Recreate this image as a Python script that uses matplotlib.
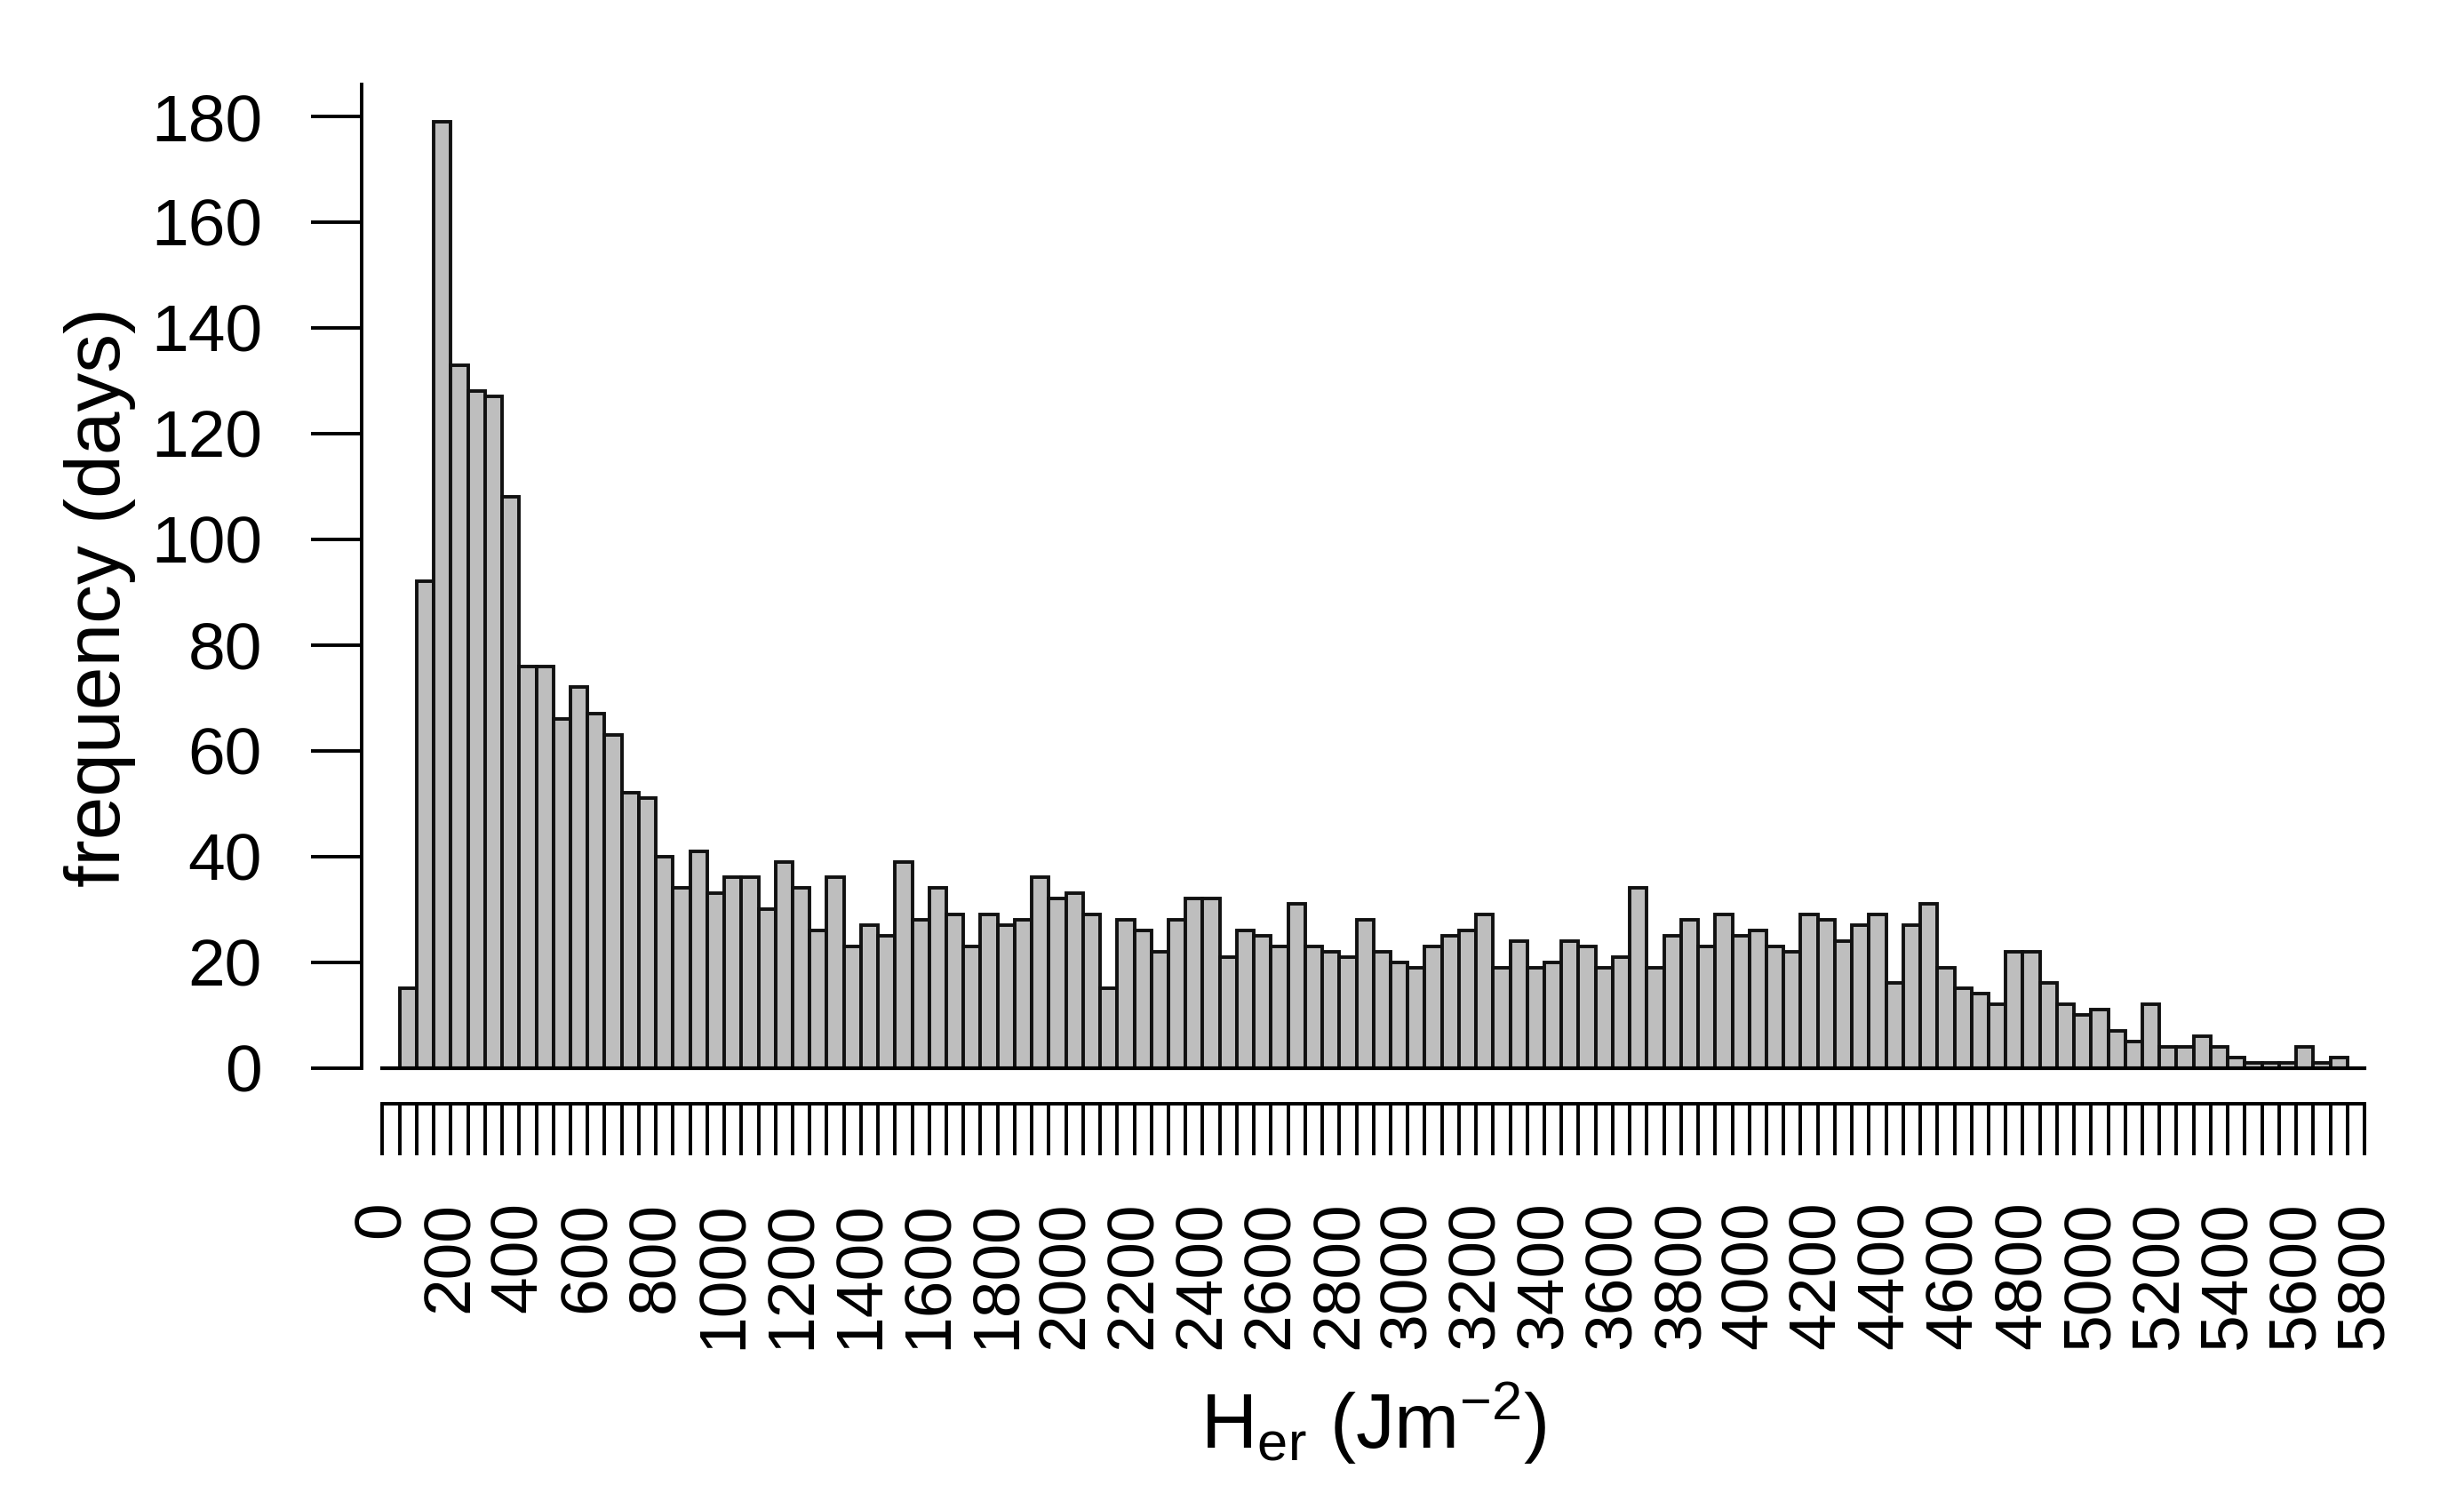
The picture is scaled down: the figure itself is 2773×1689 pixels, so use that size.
import matplotlib
matplotlib.use("Agg")
import matplotlib.pyplot as plt
import numpy as np

# ---- data ----
bin_width = 50
bin_starts = list(range(0, 5800, 50))          # 116 bins, 0..5800
counts = [0,
          15, 92, 179, 133, 128, 127, 108, 76, 76, 66,
          72, 67, 63, 52, 51, 40, 34, 41, 33, 36,
          36, 30, 39, 34, 26, 36, 23, 27, 25, 39,
          28, 34, 29, 23, 29, 27, 28, 36, 32, 33,
          29, 15, 28, 26, 22, 28, 32, 32, 21, 26,
          25, 23, 31, 23, 22, 21, 28, 22, 20, 19,
          23, 25, 26, 29, 19, 24, 19, 20, 24, 23,
          19, 21, 34, 19, 25, 28, 23, 29, 25, 26,
          23, 22, 29, 28, 24, 27, 29, 16, 27, 31,
          19, 15, 14, 12, 22, 22, 16, 12, 10, 11,
          7, 5, 12, 4, 4, 6, 4, 2, 1, 1,
          1, 4, 1, 2,
          0]
y_ticks = [0, 20, 40, 60, 80, 100, 120, 140, 160, 180]
x_minor_ticks = list(range(0, 5801, 50))
x_label_ticks = list(range(0, 5801, 200))
x_label = r'$\mathregular{H_{er}\ (Jm^{-2})}$'
y_label = 'frequency (days)'

plt.rcParams['font.family'] = ['Liberation Sans', 'DejaVu Sans']
plt.rcParams['mathtext.fontset'] = 'custom'
plt.rcParams['mathtext.rm'] = 'Liberation Sans'
plt.rcParams['mathtext.it'] = 'Liberation Sans:italic'
plt.rcParams['mathtext.bf'] = 'Liberation Sans:bold'

W, H = 2773, 1689
fig = plt.figure(figsize=(W / 100, H / 100), dpi=100)

def fx(px):
    return px / W

def fy(py):
    return 1 - py / H

x0_px, x1_px = 430.5, 2661.0
y0_px = 1201.5
ppu = 5.947  # px per count
ytop = 187
ytop_px = y0_px - ytop * ppu
lw = 2.8

ax = fig.add_axes([fx(x0_px), fy(y0_px), fx(x1_px) - fx(x0_px), fy(ytop_px) - fy(y0_px)])
ax.bar(bin_starts, counts, width=bin_width, align='edge',
       color='#bebebe', edgecolor='#111111', linewidth=lw, zorder=2)
ax.set_xlim(0, 5800)
ax.set_ylim(0, ytop)
for s in ['top', 'right']:
    ax.spines[s].set_visible(False)
ax.spines['bottom'].set_linewidth(3.0)
ax.spines['bottom'].set_zorder(3)
ax.spines['left'].set_linewidth(lw)
ax.spines['left'].set_position(('outward', 23.5 * 72 / 100))
ax.spines['left'].set_bounds(0, 186)
ax.set_xticks([])
ax.set_yticks(y_ticks)
ax.set_yticklabels([str(v) for v in y_ticks])
ax.tick_params(axis='y', direction='out', length=57 * 0.72, width=lw,
               pad=55 * 0.72, labelsize=54)
ax.patch.set_visible(False)

# separate tick axis below the histogram
tick_y_px = 1241.7
ax2 = fig.add_axes([fx(x0_px), fy(tick_y_px), fx(x1_px) - fx(x0_px), 0.0005])
ax2.set_xlim(0, 5800)
ax2.set_yticks([])
for s in ['top', 'right', 'left']:
    ax2.spines[s].set_visible(False)
ax2.spines['bottom'].set_linewidth(lw)
ax2.patch.set_visible(False)
ax2.set_xticks(x_minor_ticks)
ax2.set_xticklabels([str(v) if v in x_label_ticks else '' for v in x_minor_ticks],
                    rotation=90)
ax2.tick_params(axis='x', direction='out', length=58 * 0.72, width=lw,
                pad=52 * 0.72, labelsize=54)

fig.text(fx(1546), fy(1630), x_label, ha='center', va='baseline', fontsize=63)
fig.text(fx(113), fy(672), y_label, rotation=90, ha='center', va='center', fontsize=63)

fig.savefig('out.png', dpi=100, facecolor='white')
